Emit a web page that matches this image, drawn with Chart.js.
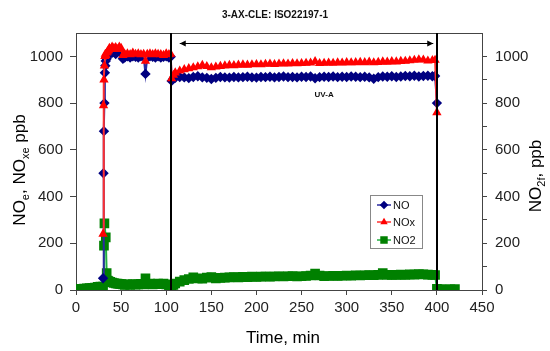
<!DOCTYPE html>
<html>
<head>
<meta charset="utf-8">
<script src="https://cdn.jsdelivr.net/npm/chart.js@4.4.1/dist/chart.umd.min.js"></script>
<style>
  body { margin: 0; background: #fff; }
</style>
</head>
<body>
<canvas id="noxChart" width="550" height="351"></canvas>
<script>
// Tempo (min) e concentrações
const minutes = [
  0, 3, 6, 9, 12, 15, 18, 21, 24, 27, 29,
  30, 30.5, 31, 31.5, 32, 32.5, 33, 34, 35, 36, 37, 38, 40, 42, 44, 46, 48, 50,
  52, 54, 57, 60, 63, 66, 69, 72, 75, 77, 79, 82, 85, 88, 91, 94, 97, 100, 103, 105,
  106, 108, 110, 115, 120, 125, 130, 135, 140, 145, 150, 155, 160, 165, 170, 175,
  180, 185, 190, 195, 200, 205, 210, 215, 220, 225, 230, 235, 240, 245, 250, 255,
  260, 265, 270, 275, 280, 285, 290, 295, 300, 305, 310, 315, 320, 325, 330, 335,
  340, 345, 350, 355, 360, 365, 370, 375, 380, 385, 390, 395, 398, 400,
  401, 405, 410, 415, 420
];

const noPpb = [
  null, null, null, null, null, null, null, null, null, null, null,
  50, 500, 680, 800, 930, 960, 980, 990, 1000, 1005, 1010, 1015, 1015, 1020, 1010, 1025, 1020, 1015,
  990, 995, 1000, 995, 1000, 998, 995, 1000, 998, 925, 995, 1000, 998, 995, 1000, 995, 998, 1000, 995, 998,
  895, 905, 908, 912, 910, 907, 912, 915, 910, 908, 903, 908, 912, 910, 909, 912,
  910, 911, 913, 910, 909, 912, 911, 913, 910, 912, 914, 911, 912, 910, 913, 912,
  914, 906, 911, 913, 912, 914, 911, 913, 912, 914, 913, 911, 913, 910, 904, 911,
  914, 913, 915, 912, 914, 916, 915, 917, 914, 916, 917, 915, 916, 800,
  null, null, null, null, null
];

const noxPpb = [
  null, null, null, null, null, null, null, null, null, null, null,
  240, 790, 900, 960, 1000, 1010, 1005, 1015, 1020, 1025, 1035, 1030, 1040, 1035, 1038, 1030, 1040, 1035,
  1005, 1010, 1012, 1008, 1015, 1010, 1012, 1008, 1010, 980, 1010, 1012, 1008, 1012, 1010, 1008, 1005, 1012, 1008, 1010,
  905, 920, 930, 938, 944, 948, 952, 956, 962, 957, 952, 955, 958, 960, 962, 961,
  963, 964, 963, 965, 966, 965, 967, 968, 966, 968, 969, 968, 970, 969, 970, 971,
  972, 978, 970, 971, 972, 971, 973, 972, 974, 973, 974, 975, 974, 976, 973, 975,
  977, 976, 978, 977, 979, 980, 982, 984, 986, 985, 981, 983, 984, 760,
  null, null, null, null, null
];

const no2Ppb = [
  3, 4, 5, 6, 7, 8, 9, 10, 14, 15, 14,
  15, null, 190, 285, null, null, 225, 72, 40, 38, 35, 35, 32, 30, 28, 27, 26, 25,
  24, 22, 24, 22, 25, 23, 24, 26, 24, 50, 25, 27, 24, 26, 28, 25, 27, 24, 20, 18,
  15, 22, 28, 36, 42, 47, 54, 50, 48, 53, 55, 50, 52, 53, 54, 55,
  54, 56, 55, 57, 56, 57, 58, 57, 58, 59, 58, 59, 60, 58, 59, 60,
  62, 70, 62, 59, 60, 61, 60, 61, 62, 61, 63, 62, 63, 64, 63, 65,
  72, 64, 65, 64, 66, 65, 67, 66, 68, 67, 66, 65, 64, 5,
  2, 3, 3, 3, 4
];

// Marcas do período UV-A
const uvStart = 105;
const uvEnd = 400;
const xTicks = [0, 50, 100, 150, 200, 250, 300, 350, 400, 450];

const FONT = "'Liberation Sans', Arial, sans-serif";
Chart.defaults.font.family = FONT;
Chart.defaults.color = '#222';

const toPoints = (vals) => minutes.map((t, i) => ({ x: t, y: vals[i] }));

// Escreve texto com subscritos
function drawParts(ctx, parts, size, align) {
    const widths = parts.map(p => {
        ctx.font = (p[1] ? Math.round(size * 0.65) : size) + 'px ' + FONT;
        return ctx.measureText(p[0]).width;
    });
    const total = widths.reduce((a, b) => a + b, 0);
    let x = align === 'center' ? -total / 2 : 0;
    parts.forEach((p, i) => {
        ctx.font = (p[1] ? Math.round(size * 0.65) : size) + 'px ' + FONT;
        ctx.fillText(p[0], x, p[1] ? size * 0.25 : 0);
        x += widths[i];
    });
}

const overlay = {
    id: 'overlay',
    afterDatasetsDraw(chart) {
        const ctx = chart.ctx;
        const xs = chart.scales.x;
        const ys = chart.scales.y;
        const area = chart.chartArea;
        ctx.save();

        // borda superior
        ctx.strokeStyle = '#444';
        ctx.lineWidth = 1;
        ctx.beginPath();
        ctx.moveTo(area.left, area.top + 0.5);
        ctx.lineTo(area.right, area.top + 0.5);
        ctx.stroke();

        // linhas verticais
        ctx.strokeStyle = '#000';
        ctx.lineWidth = 2;
        [uvStart, uvEnd].forEach(t => {
            const px = Math.round(xs.getPixelForValue(t));
            ctx.beginPath();
            ctx.moveTo(px, area.top);
            ctx.lineTo(px, area.bottom);
            ctx.stroke();
        });

        // seta dupla
        const ay = Math.round(ys.getPixelForValue(1056)) + 0.5;
        const ax1 = xs.getPixelForValue(115);
        const ax2 = xs.getPixelForValue(396);
        ctx.lineWidth = 1;
        ctx.beginPath();
        ctx.moveTo(ax1, ay);
        ctx.lineTo(ax2, ay);
        ctx.stroke();
        ctx.fillStyle = '#000';
        ctx.beginPath();
        ctx.moveTo(ax1, ay); ctx.lineTo(ax1 + 6, ay - 3); ctx.lineTo(ax1 + 6, ay + 3); ctx.closePath();
        ctx.fill();
        ctx.beginPath();
        ctx.moveTo(ax2, ay); ctx.lineTo(ax2 - 6, ay - 3); ctx.lineTo(ax2 - 6, ay + 3); ctx.closePath();
        ctx.fill();

        // textos
        ctx.fillStyle = '#111';
        ctx.textAlign = 'center';
        ctx.textBaseline = 'alphabetic';
        ctx.font = 'bold 8px ' + FONT;
        ctx.fillText('UV-A', xs.getPixelForValue(275), ys.getPixelForValue(825));
        ctx.font = 'bold 10px ' + FONT;
        ctx.fillText('3-AX-CLE: ISO22197-1', 275, 18);

        // titulos dos eixos
        ctx.textAlign = 'left';
        ctx.fillStyle = '#000';
        ctx.save();
        ctx.translate(25, 170);
        ctx.rotate(-Math.PI / 2);
        drawParts(ctx, [['NO', 0], ['e', 1], [', NO', 0], ['xe', 1], [' ppb', 0]], 17, 'center');
        ctx.restore();
        ctx.save();
        ctx.translate(541, 176);
        ctx.rotate(-Math.PI / 2);
        drawParts(ctx, [['NO', 0], ['2f', 1], [', ppb', 0]], 17, 'center');
        ctx.restore();
        ctx.textAlign = 'center';
        ctx.font = '17px ' + FONT;
        ctx.fillText('Time, min', 283, 343);

        // legenda
        ctx.fillStyle = '#fff';
        ctx.fillRect(370, 195, 52, 53);
        ctx.strokeStyle = '#888';
        ctx.lineWidth = 1;
        ctx.strokeRect(370.5, 195.5, 52, 53);
        const rows = [205, 222, 240];
        const legendRadius = [3.2, 2.8, 4.2];
        chart.data.datasets.forEach((ds, i) => {
            const y = rows[i];
            ctx.strokeStyle = ds.borderColor;
            ctx.lineWidth = 1.5;
            ctx.beginPath();
            ctx.moveTo(377, y);
            ctx.lineTo(391, y);
            ctx.stroke();
            ctx.fillStyle = ds.pointBackgroundColor;
            ctx.strokeStyle = ds.pointBorderColor;
            Chart.helpers.drawPoint(ctx, { pointStyle: ds.pointStyle, radius: legendRadius[i], borderWidth: 1, rotation: 0 }, 384, y);
            ctx.fillStyle = '#111';
            ctx.textAlign = 'left';
            ctx.textBaseline = 'middle';
            ctx.font = '11px ' + FONT;
            ctx.fillText(ds.label, 393, y + 1);
        });
        ctx.restore();
    }
};

new Chart(document.getElementById('noxChart').getContext('2d'), {
    type: 'line',
    data: {
        datasets: [{
            label: 'NO',
            data: toPoints(noPpb),
            borderColor: '#2a2aa0',
            borderWidth: 2,
            pointStyle: 'rectRot',
            pointRadius: 3.8,
            pointBackgroundColor: '#000080',
            pointBorderColor: '#000080',
            spanGaps: true,
            order: 1
        }, {
            label: 'NOx',
            data: toPoints(noxPpb),
            borderColor: '#ff3030',
            borderWidth: 2,
            pointStyle: 'triangle',
            pointRadius: 3.4,
            pointBackgroundColor: '#ff0000',
            pointBorderColor: '#ff0000',
            spanGaps: true,
            order: 0
        }, {
            label: 'NO2',
            data: toPoints(no2Ppb),
            borderColor: '#22b040',
            borderWidth: 2,
            pointStyle: 'rect',
            pointRadius: 5.4,
            pointBackgroundColor: '#008000',
            pointBorderColor: '#008000',
            spanGaps: true,
            order: 2
        }]
    },
    options: {
        responsive: false,
        devicePixelRatio: 1,
        animation: false,
        layout: { padding: { top: 33, left: 0, right: 0, bottom: 0 } },
        plugins: { legend: { display: false }, tooltip: { enabled: false } },
        scales: {
            x: {
                type: 'linear',
                min: 0,
                max: 450,
                afterBuildTicks: (s) => { s.ticks = xTicks.map(v => ({ value: v })); },
                afterFit: (s) => { s.height = 61; },
                ticks: { font: { size: 15 }, color: '#222', padding: 4, maxRotation: 0, callback: (v) => String(v) },
                grid: { drawOnChartArea: false, tickLength: 5, color: '#444' },
                border: { color: '#444' }
            },
            y: {
                position: 'left',
                min: 0,
                max: 1100,
                afterBuildTicks: (s) => { s.ticks = s.ticks.filter(t => t.value % 200 === 0); },
                afterFit: (s) => { s.width = 76; },
                ticks: { stepSize: 200, font: { size: 15 }, color: '#222', padding: 7, callback: (v) => String(v) },
                grid: { drawOnChartArea: false, tickLength: 6, color: '#444' },
                border: { color: '#444' }
            },
            y2: {
                position: 'right',
                min: 0,
                max: 1100,
                afterBuildTicks: (s) => { s.ticks = s.ticks.filter(t => t.value % 100 === 0 && t.value <= 1000); },
                afterFit: (s) => { s.width = 68; },
                ticks: {
                    stepSize: 100,
                    font: { size: 15 },
                    color: '#222',
                    padding: 8,
                    autoSkip: false,
                    callback: (v) => (v % 200 === 0 ? String(v) : '')
                },
                grid: { drawOnChartArea: false, tickLength: 5, color: '#444' },
                border: { color: '#444' }
            }
        }
    },
    plugins: [overlay]
});
</script>
</body>
</html>
